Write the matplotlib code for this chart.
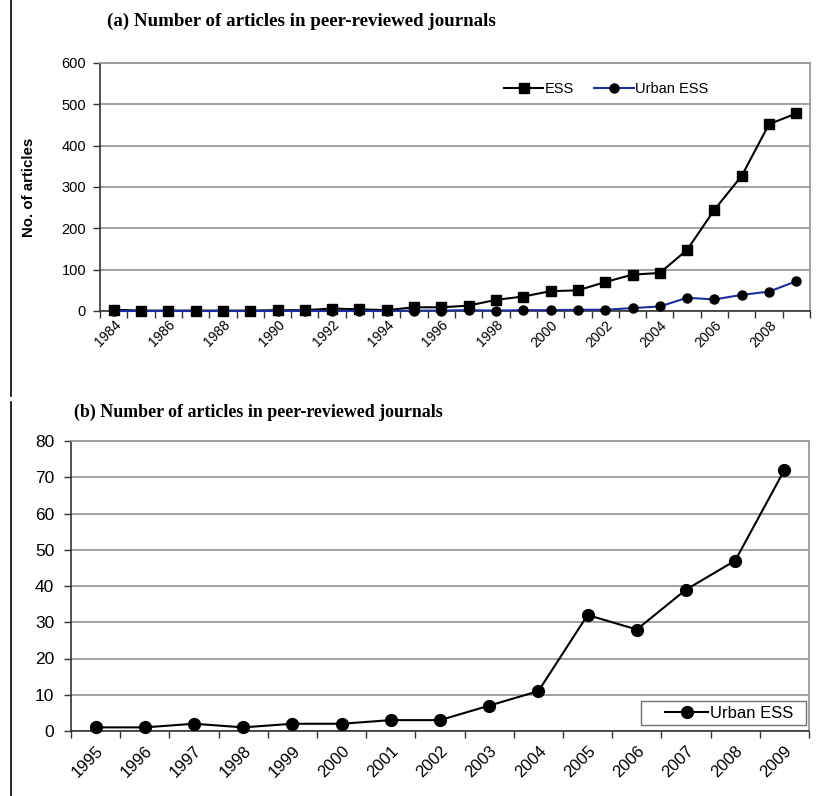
import numpy as np
import matplotlib.pyplot as plt
from matplotlib.lines import Line2D
from matplotlib.patches import Rectangle

plt.rcParams['font.family'] = ['Liberation Sans', 'DejaVu Sans']

years_a = list(range(1984, 2010))
ess = [3, 1, 1, 1, 1, 1, 2, 2, 6, 4, 2, 9, 9, 13, 27, 35, 48, 50, 70, 88, 92,
       148, 245, 327, 452, 478]
urban_a = [0, 0, 0, 0, 0, 0, 0, 0, 0, 0, 0, 1, 1, 2, 1, 2, 2, 3, 3, 7, 11,
           32, 28, 39, 47, 72]

years_b = list(range(1995, 2010))
urban_b = [1, 1, 2, 1, 2, 2, 3, 3, 7, 11, 32, 28, 39, 47, 72]

title_a = '(a) Number of articles in peer-reviewed journals'
title_b = '(b) Number of articles in peer-reviewed journals'

grid_col = '#9a9a9a'
blue = '#1f2c9c'

fig = plt.figure(figsize=(8.32, 7.96), dpi=100)

# left border lines like in the source page
fig.add_artist(Line2D([0.0135, 0.0135], [1.0, 1 - 396/796], color='black', lw=1.2))
fig.add_artist(Line2D([0.0135, 0.0135], [1 - 402/796, 0.0], color='black', lw=1.2))


def style_axes(ax, n, fs, ypad):
    ax.set_xlim(-0.5, n - 0.5)
    ax.grid(axis='y', color=grid_col, lw=1.3)
    ax.set_axisbelow(True)
    for s in ['top', 'right']:
        ax.spines[s].set_color(grid_col)
        ax.spines[s].set_linewidth(1.3)
    for s in ['left', 'bottom']:
        ax.spines[s].set_color('#333333')
        ax.spines[s].set_linewidth(1.2)
    ax.set_xticks(np.arange(n + 1) - 0.5, minor=True)
    ax.tick_params(axis='x', which='minor', length=5, color='#333333', width=1)
    ax.tick_params(axis='y', length=5, color='#333333', width=1,
                   labelsize=fs, pad=ypad)


# ---- panel (a)
ax1 = fig.add_axes([100/832, 1 - 311/796, 710/832, 248/796])
xa = np.arange(len(years_a))
ax1.plot(xa, ess, color='black', lw=1.5, marker='s', ms=7, label='ESS',
         clip_on=False, zorder=3)
ax1.plot(xa, urban_a, color=blue, lw=1.5, marker='o', ms=6.5,
         mfc='black', mec='black', label='Urban ESS', clip_on=False, zorder=3)
style_axes(ax1, len(years_a), 10.5, 5)
ax1.set_ylim(0, 600)
ax1.set_yticks(range(0, 601, 100))
ax1.set_xticks(xa[::2])
ax1.set_xticklabels([str(y) for y in years_a[::2]], rotation=45, ha='right',
                    rotation_mode='anchor', fontsize=10)
ax1.tick_params(axis='x', which='major', length=0, pad=5)
ax1.set_ylabel('No. of articles', fontsize=10.8, fontweight='bold')
ax1.yaxis.set_label_coords(-0.09, 0.5)
ax1.legend(loc='center', bbox_to_anchor=(0.713, 0.895), ncol=2, frameon=False,
           fontsize=10.5, handlelength=2.7, handletextpad=0.1, columnspacing=1.4)
fig.text(107/832, 1 - 21/796, title_a, family='Liberation Serif',
         fontweight='bold', fontsize=13.6, va='center', ha='left')

# ---- panel (b)
ax2 = fig.add_axes([71/832, 65/796, 738/832, 290/796])
xb = np.arange(len(years_b))
ax2.plot(xb, urban_b, color='black', lw=1.5, marker='o', ms=8.5, label='Urban ESS',
         clip_on=False, zorder=3)
style_axes(ax2, len(years_b), 12.5, 7)
ax2.set_ylim(0, 80)
ax2.set_yticks(range(0, 81, 10))
ax2.set_xticks(xb)
ax2.set_xticklabels([str(y) for y in years_b], rotation=45, ha='right',
                    rotation_mode='anchor', fontsize=12)
ax2.tick_params(axis='x', which='major', length=0, pad=9)
ax2.add_patch(Rectangle((0.772, 0.021), 0.224, 0.083, transform=ax2.transAxes,
                        facecolor='white', edgecolor='#707070', lw=1.0, zorder=4))
leg = ax2.legend(loc='center right', bbox_to_anchor=(0.99, 0.062), fontsize=12,
                 frameon=False, handlelength=2.6, handletextpad=0.1, borderpad=0.0)
leg.set_zorder(5)
fig.text(74/832, 1 - 412/796, title_b, family='Liberation Serif',
         fontweight='bold', fontsize=12.9, va='center', ha='left')

fig.savefig('out.png', dpi=100)
